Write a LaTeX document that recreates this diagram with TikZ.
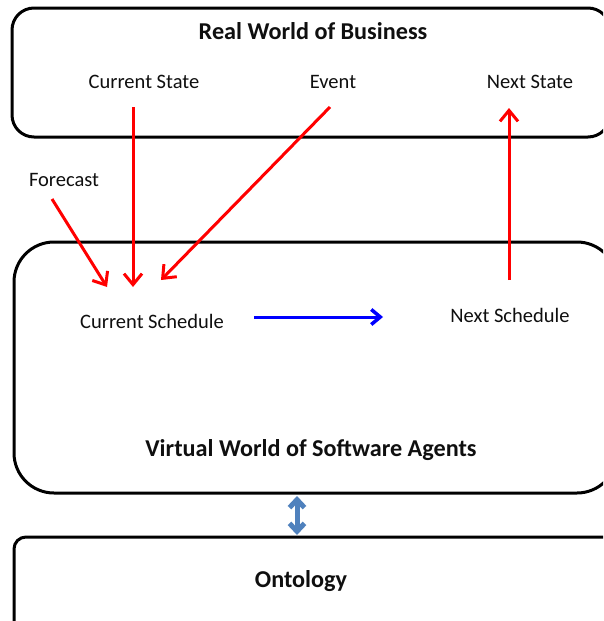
\documentclass[tikz,border=0pt]{standalone}
\usepackage{fontspec}
\setmainfont{Carlito}
\usetikzlibrary{arrows.meta}
\definecolor{txt}{RGB}{15,15,15}
\definecolor{redarr}{RGB}{255,0,0}
\definecolor{bluearr}{RGB}{0,0,255}
\definecolor{steel}{RGB}{79,129,189}
\tikzset{
  panel/.style={draw=black, line width=3pt, rounded corners=#1, inner sep=0pt},
  lbl/.style={text=txt, font=\fontsize{20.5}{24}\selectfont, inner sep=0pt},
  ttl/.style={text=txt, font=\fontsize{24.2}{28}\selectfont\bfseries, inner sep=0pt},
  redline/.style={draw=redarr, line width=3pt, -{Straight Barb[length=11pt,width=18pt,line width=3pt]}},
  blueline/.style={draw=bluearr, line width=3pt, -{Straight Barb[length=9pt,width=15pt,line width=3.5pt]}},
  dbl/.style={draw=steel, line width=5pt, {Straight Barb[length=8pt,width=15pt,line width=5pt]}-{Straight Barb[length=8pt,width=15pt,line width=5pt]}}
}
\begin{document}
\begin{tikzpicture}[x=1pt,y=-1pt]
\useasboundingbox (0,0) rectangle (603,621);
\clip (0,0) rectangle (603,621);
\fill[white] (0,0) rectangle (603,621);
% panels
\node[panel=22pt, minimum width=598pt, minimum height=129pt] (real) at (311,72.5) {};
\node[panel=40pt, minimum width=603pt, minimum height=251pt] (virt) at (315.5,367.5) {};
\node[panel=12pt, minimum width=606pt, minimum height=103pt] (onto) at (317,588.5) {};
% titles
\node[ttl] (realt) at (313,31) {Real World of Business};
\node[ttl] (virtt) at (311,450) {Virtual World of Software Agents};
\node[ttl] (ontot) at (301,581) {Ontology};
% labels
\node[lbl] (cs) at (144,82) {Current State};
\node[lbl] (ev) at (333,82) {Event};
\node[lbl] (ns) at (530,82) {Next State};
\node[lbl] (fc) at (64,180) {Forecast};
\node[lbl] (csch) at (152,321) {Current Schedule};
\node[lbl] (nsch) at (510,315) {Next Schedule};
% coordinates
\coordinate (csA) at (133,107);
\coordinate (csB) at (133,287);
\coordinate (evA) at (330,107);
\coordinate (evB) at (161,280);
\coordinate (fcA) at (52,199);
\coordinate (fcB) at (107,287);
\coordinate (nsA) at (509,280);
\coordinate (nsB) at (509,108);
\coordinate (bA) at (254,317);
\coordinate (bB) at (383,317);
\coordinate (dA) at (297,496);
\coordinate (dB) at (297,535);
% arrows
\draw[redline] (csA) -- (csB);
\draw[redline] (evA) -- (evB);
\draw[redline] (fcA) -- (fcB);
\draw[redline] (nsA) -- (nsB);
\draw[blueline] (bA) -- (bB);
\draw[dbl] (dA) -- (dB);
\end{tikzpicture}
\end{document}
